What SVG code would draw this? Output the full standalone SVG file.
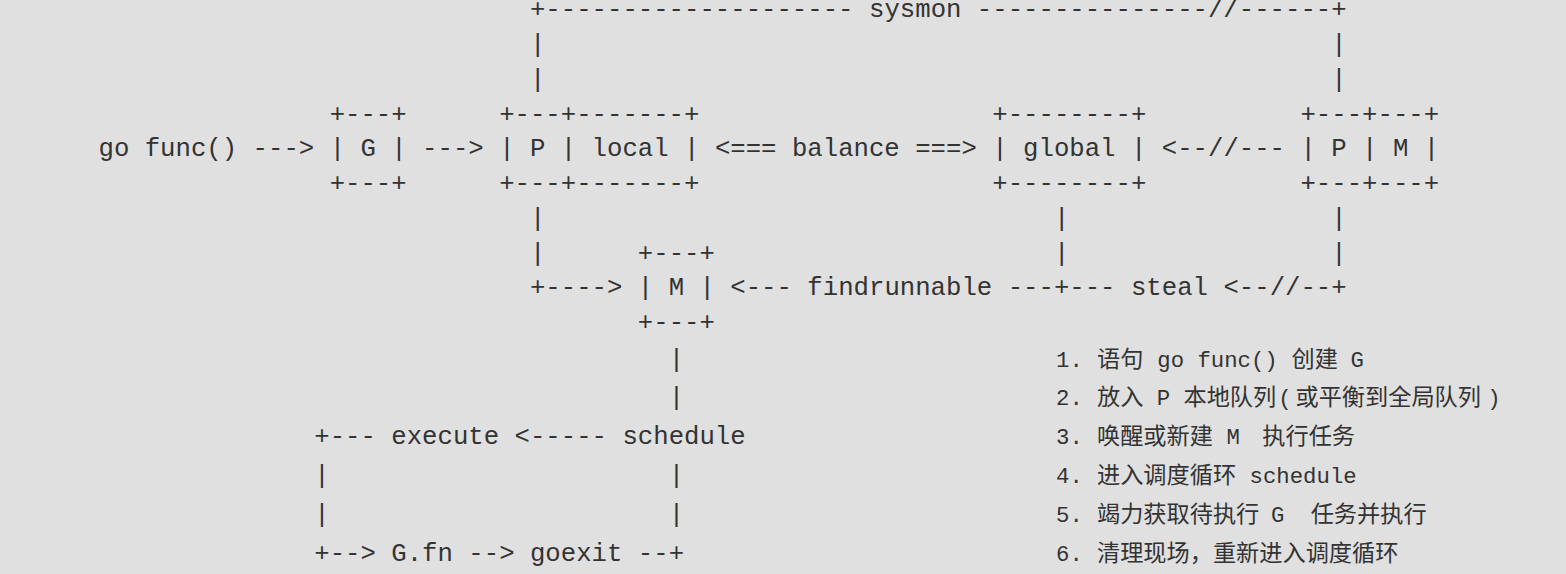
<svg xmlns="http://www.w3.org/2000/svg" width="1566" height="574" viewBox="0 0 1566 574">
<style>
text{font-family:"Liberation Mono","Courier New","Noto Sans CJK SC",monospace;font-size:25.68px;fill:#333}
.l{font-size:22.3px}
.c{font-family:"Liberation Mono","Noto Sans CJK SC",sans-serif;font-size:23.2px}
</style>
<rect width="1566" height="574" fill="#e0e0e0"/>
<g id="connectors">
<text x="529.98" y="17.3">+--------------------</text>
<text x="869.03" y="17.3">sysmon</text>
<text x="976.87" y="17.3">---------------//------+</text>
<text x="529.98" y="52">|</text><text x="1331.3" y="52">|</text>
<text x="529.98" y="86.8">|</text><text x="1331.3" y="86.8">|</text>
<text x="252.6" y="156.3">---&gt;</text>
<text x="422.11" y="156.3">---&gt;</text>
<text x="714.9" y="156.3">&lt;===</text>
<text x="791.95" y="156.3">balance</text>
<text x="915.23" y="156.3">===&gt;</text>
<text x="1161.79" y="156.3">&lt;--//---</text>
<text x="529.98" y="225.7">|</text><text x="1053.92" y="225.7">|</text><text x="1331.3" y="225.7">|</text>
<text x="529.98" y="260.5">|</text><text x="1053.92" y="260.5">|</text><text x="1331.3" y="260.5">|</text>
<text x="529.98" y="295.2">+----&gt;</text>
<text x="730.31" y="295.2">&lt;---</text>
<text x="807.36" y="295.2">findrunnable</text>
<text x="1007.69" y="295.2">---+---</text>
<text x="1130.97" y="295.2">steal</text>
<text x="1223.43" y="295.2">&lt;--//--+</text>
<text x="668.67" y="366.5">|</text>
<text x="668.67" y="405.4">|</text>
<text x="314.24" y="444.3">+---</text>
<text x="514.57" y="444.3">&lt;-----</text>
<text x="314.24" y="483.2">|</text><text x="668.67" y="483.2">|</text>
<text x="314.24" y="522.1">|</text><text x="668.67" y="522.1">|</text>
<text x="314.24" y="561">+--&gt;</text>
<text x="468.34" y="561">--&gt;</text>
<text x="637.85" y="561">--+</text>
</g>
<g id="node-gofunc"><text x="98.5" y="156.3">go func()</text></g>
<g id="node-G">
<text x="329.65" y="121.5">+---+</text>
<text x="329.65" y="156.3">| G |</text>
<text x="329.65" y="191">+---+</text>
</g>
<g id="node-P-local">
<text x="499.16" y="121.5">+---+-------+</text>
<text x="499.16" y="156.3">| P | local |</text>
<text x="499.16" y="191">+---+-------+</text>
</g>
<g id="node-global">
<text x="992.28" y="121.5">+--------+</text>
<text x="992.28" y="156.3">| global |</text>
<text x="992.28" y="191">+--------+</text>
</g>
<g id="node-P-M">
<text x="1300.48" y="121.5">+---+---+</text>
<text x="1300.48" y="156.3">| P | M |</text>
<text x="1300.48" y="191">+---+---+</text>
</g>
<g id="node-M">
<text x="637.85" y="260.5">+---+</text>
<text x="637.85" y="295.2">| M |</text>
<text x="637.85" y="330">+---+</text>
</g>
<g id="node-execute"><text x="391.29" y="444.3">execute</text></g>
<g id="node-schedule"><text x="622.44" y="444.3">schedule</text></g>
<g id="node-Gfn"><text x="391.29" y="561">G.fn</text></g>
<g id="node-goexit"><text x="529.98" y="561">goexit</text></g>
<g id="legend">
<text y="366.5"><tspan class="l" x="1056">1. </tspan><tspan class="c" x="1097">语句 </tspan><tspan class="l" x="1157.3">go func() </tspan><tspan class="c" x="1291.5">创建 </tspan><tspan class="l" x="1350.5">G</tspan></text>
<text y="405.4"><tspan class="l" x="1056">2. </tspan><tspan class="c" x="1097">放入 </tspan><tspan class="l" x="1156.8">P </tspan><tspan class="c" x="1183.5">本地队列</tspan><tspan class="l" x="1278.3">(</tspan><tspan class="c" x="1295.5">或平衡到全局队列</tspan><tspan class="l" x="1487.3">)</tspan></text>
<text y="444.3"><tspan class="l" x="1056">3. </tspan><tspan class="c" x="1097">唤醒或新建 </tspan><tspan class="l" x="1226.4">M </tspan><tspan class="c" x="1262.3">执行任务</tspan></text>
<text y="483.2"><tspan class="l" x="1056">4. </tspan><tspan class="c" x="1097">进入调度循环 </tspan><tspan class="l" x="1249.6">schedule</tspan></text>
<text y="522.1"><tspan class="l" x="1056">5. </tspan><tspan class="c" x="1097">竭力获取待执行 </tspan><tspan class="l" x="1271">G </tspan><tspan class="c" x="1310.7">任务并执行</tspan></text>
<text y="561"><tspan class="l" x="1056">6. </tspan><tspan class="c" x="1097">清理现场，重新进入调度循环</tspan></text>
</g>
</svg>
